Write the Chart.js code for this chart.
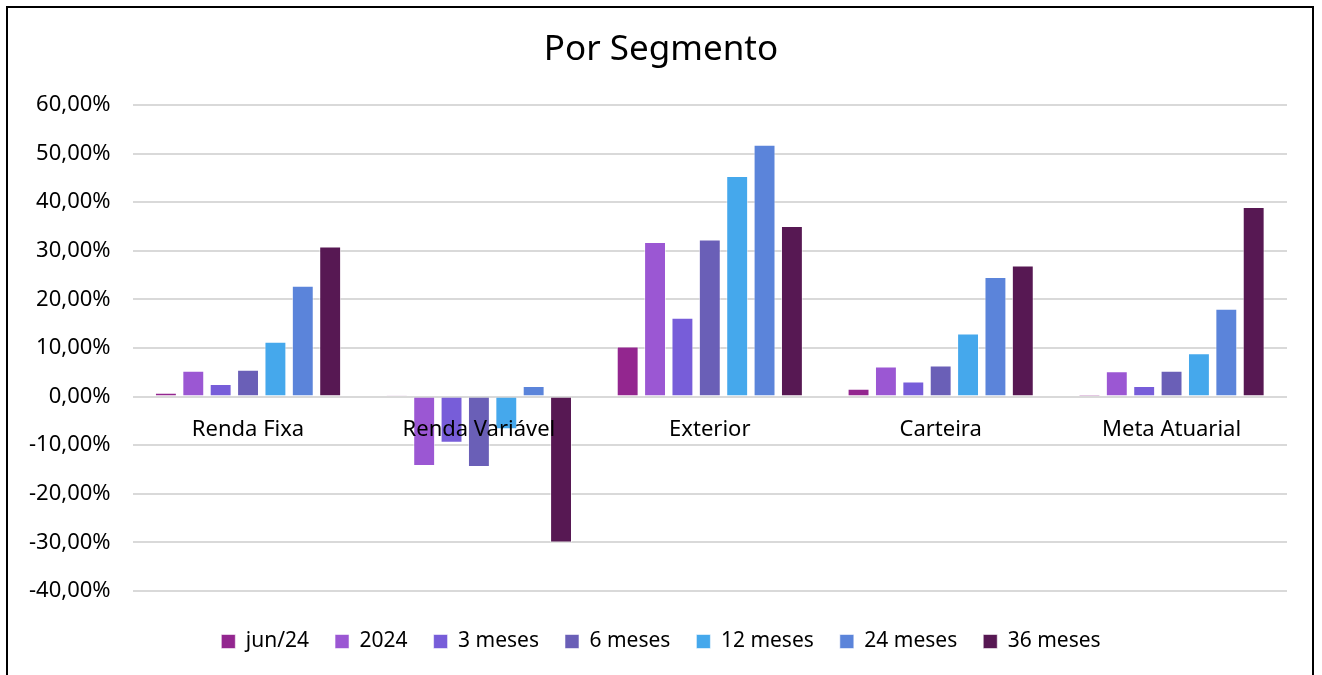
<!DOCTYPE html>
<html>
<head>
<meta charset="utf-8">
<script src="https://cdn.jsdelivr.net/npm/chart.js@4/dist/chart.umd.min.js"></script>
<style>
  body { margin: 0; background: #fff; overflow: hidden; }
  #wrap { position: absolute; left: 0; top: 0; width: 1322px; height: 675px; }
  #frame { position: absolute; left: 6px; top: 6px; width: 1308px; height: 720px; border: 2px solid #000; box-sizing: border-box; pointer-events: none; }
</style>
</head>
<body>
<div id="wrap"><canvas id="myChart"></canvas></div>
<div id="frame"></div>
<script>
//  chart data
const categories = ['Renda Fixa', 'Renda Variável', 'Exterior', 'Carteira', 'Meta Atuarial'];
const series_names = ['jun/24', '2024', '3 meses', '6 meses', '12 meses', '24 meses', '36 meses'];
const jun24 = [0.8, 0.3, 10.3, 1.6, 0.5];
const ano2024 = [5.3, -14.3, 31.8, 6.2, 5.2];
const meses3 = [2.6, -9.5, 16.2, 3.1, 2.2];
const meses6 = [5.5, -14.5, 32.3, 6.4, 5.3];
const meses12 = [11.3, -6.7, 45.4, 13.0, 8.9];
const meses24 = [22.8, 2.2, 51.8, 24.6, 18.1];
const meses36 = [30.9, -30.0, 35.1, 27.0, 39.0];
const y_ticks = [60, 50, 40, 30, 20, 10, 0, -10, -20, -30, -40];

const series_values = [jun24, ano2024, meses3, meses6, meses12, meses24, meses36];
const colors = ['#93268F', '#9B57D3', '#775DD9', '#6A5FB7', '#45A8EC', '#5B84DA', '#571853'];

const font_family = '"Noto Sans", "Open Sans", sans-serif';

const ctx = document.getElementById('myChart').getContext('2d');
const myChart = new Chart(ctx, {
  type: 'bar',
  data: {
    labels: categories,
    datasets: series_names.map((name, i) => ({
      label: name,
      data: series_values[i],
      backgroundColor: colors[i],
      borderColor: 'rgba(255, 255, 255, 0.55)',
      borderWidth: 1,
      categoryPercentage: 0.83,
      barPercentage: 0.8
    }))
  },
  options: {
    responsive: true,
    maintainAspectRatio: false,
    animation: false,
    layout: {
      padding: { left: 7, right: 7, top: 10, bottom: 13 }
    },
    plugins: {
      title: {
        display: true,
        text: 'Por Segmento',
        color: '#000',
        font: { family: font_family, size: 35, weight: 'normal' },
        padding: { top: 19, bottom: 34 }
      },
      legend: {
        position: 'bottom',
        // empty legend title only adds room above the items
        title: { display: true, text: '', font: { size: 10 }, padding: { top: 0, bottom: 2 } },
        labels: {
          color: '#000',
          boxWidth: 14,
          boxHeight: 14,
          padding: 26,
          font: { family: font_family, size: 21 }
        }
      },
      tooltip: { enabled: false }
    },
    scales: {
      x: {
        position: { y: 0 },
        grid: { display: false },
        border: { display: false },
        ticks: {
          z: 1,
          color: '#000',
          padding: 12,
          font: { family: font_family, size: 22 }
        }
      },
      y: {
        min: -40,
        max: 60,
        afterBuildTicks: (axis) => {
          axis.ticks = y_ticks.map(v => ({ value: v }));
        },
        grid: { color: '#d9d9d9', lineWidth: 2, drawTicks: false },
        border: { display: false },
        ticks: {
          color: '#000',
          padding: 22,
          font: { family: font_family, size: 22 },
          callback: (value) => value.toFixed(2).replace('.', ',') + '%'
        }
      },
      // blank right margin so the title stays centred in the frame
      y2: {
        position: 'right',
        grid: { display: false },
        border: { display: false },
        ticks: { display: false },
        afterFit: (axis) => { axis.width = 28; }
      }
    }
  }
});
</script>
</body>
</html>
